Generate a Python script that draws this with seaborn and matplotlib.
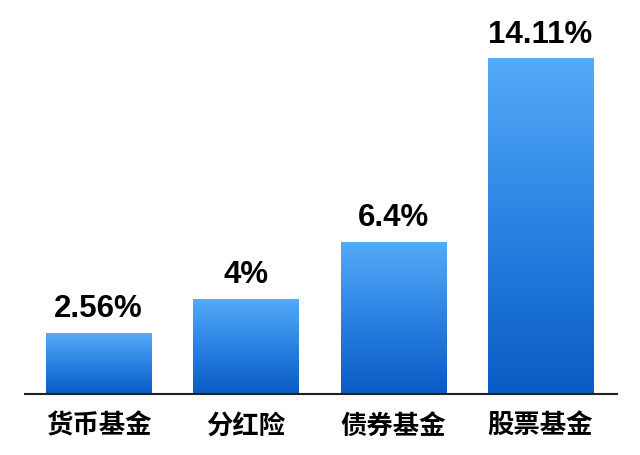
import numpy as np
import pandas as pd
import matplotlib
matplotlib.use("Agg")
import matplotlib.pyplot as plt
import seaborn as sns
from matplotlib.colors import LinearSegmentedColormap

categories = ["货币基金", "分红险", "债券基金", "股票基金"]
returns = [2.56, 4.0, 6.4, 14.11]
value_labels = ["2.56%", "4%", "6.4%", "14.11%"]

sns.set_style("white")
plt.rcParams["font.family"] = ["Noto Sans CJK SC", "DejaVu Sans"]

df = pd.DataFrame({"category": categories, "ret": returns})

fig = plt.figure(figsize=(6.4, 4.56), dpi=100)
ax = fig.add_axes([0.039, 0.134, 0.925, 0.866])

sns.barplot(data=df, x="category", y="ret", color="#3d8fe8", width=0.714,
            saturation=1, ax=ax)

# vertical gradient on each bar, light on top, dark at the bottom
cmap = LinearSegmentedColormap.from_list("blu", ["#085bc4", "#2b82e2", "#54abf8"])
grad = np.linspace(0, 1, 256).reshape(-1, 1)
for p in ax.patches:
    x0, y0 = p.get_x(), p.get_y()
    w, h = p.get_width(), p.get_height()
    im = ax.imshow(grad, cmap=cmap, origin="lower", aspect="auto",
                   extent=[x0, x0 + w, y0, y0 + h], zorder=p.get_zorder() + 0.1)
    im.set_clip_path(p)

for i, lab in enumerate(value_labels):
    ax.text(i, returns[i] + 0.4, lab, ha="center", va="bottom", color="black",
            fontsize=22.5, fontweight="bold", family=["Liberation Sans", "DejaVu Sans"])

ax.set_xlim(-0.5, 3.52)
ax.set_ylim(0, 16.6)
ax.set_xlabel("")
ax.set_ylabel("")
ax.set_yticks([])
for s in ["top", "right", "left"]:
    ax.spines[s].set_visible(False)
ax.spines["bottom"].set_color("#222222")
ax.spines["bottom"].set_linewidth(1.5)
ax.tick_params(axis="x", length=0, pad=13)
for t in ax.get_xticklabels():
    t.set_fontsize(19)
    t.set_fontweight("bold")
    t.set_color("black")

fig.savefig("out.png", dpi=100)
